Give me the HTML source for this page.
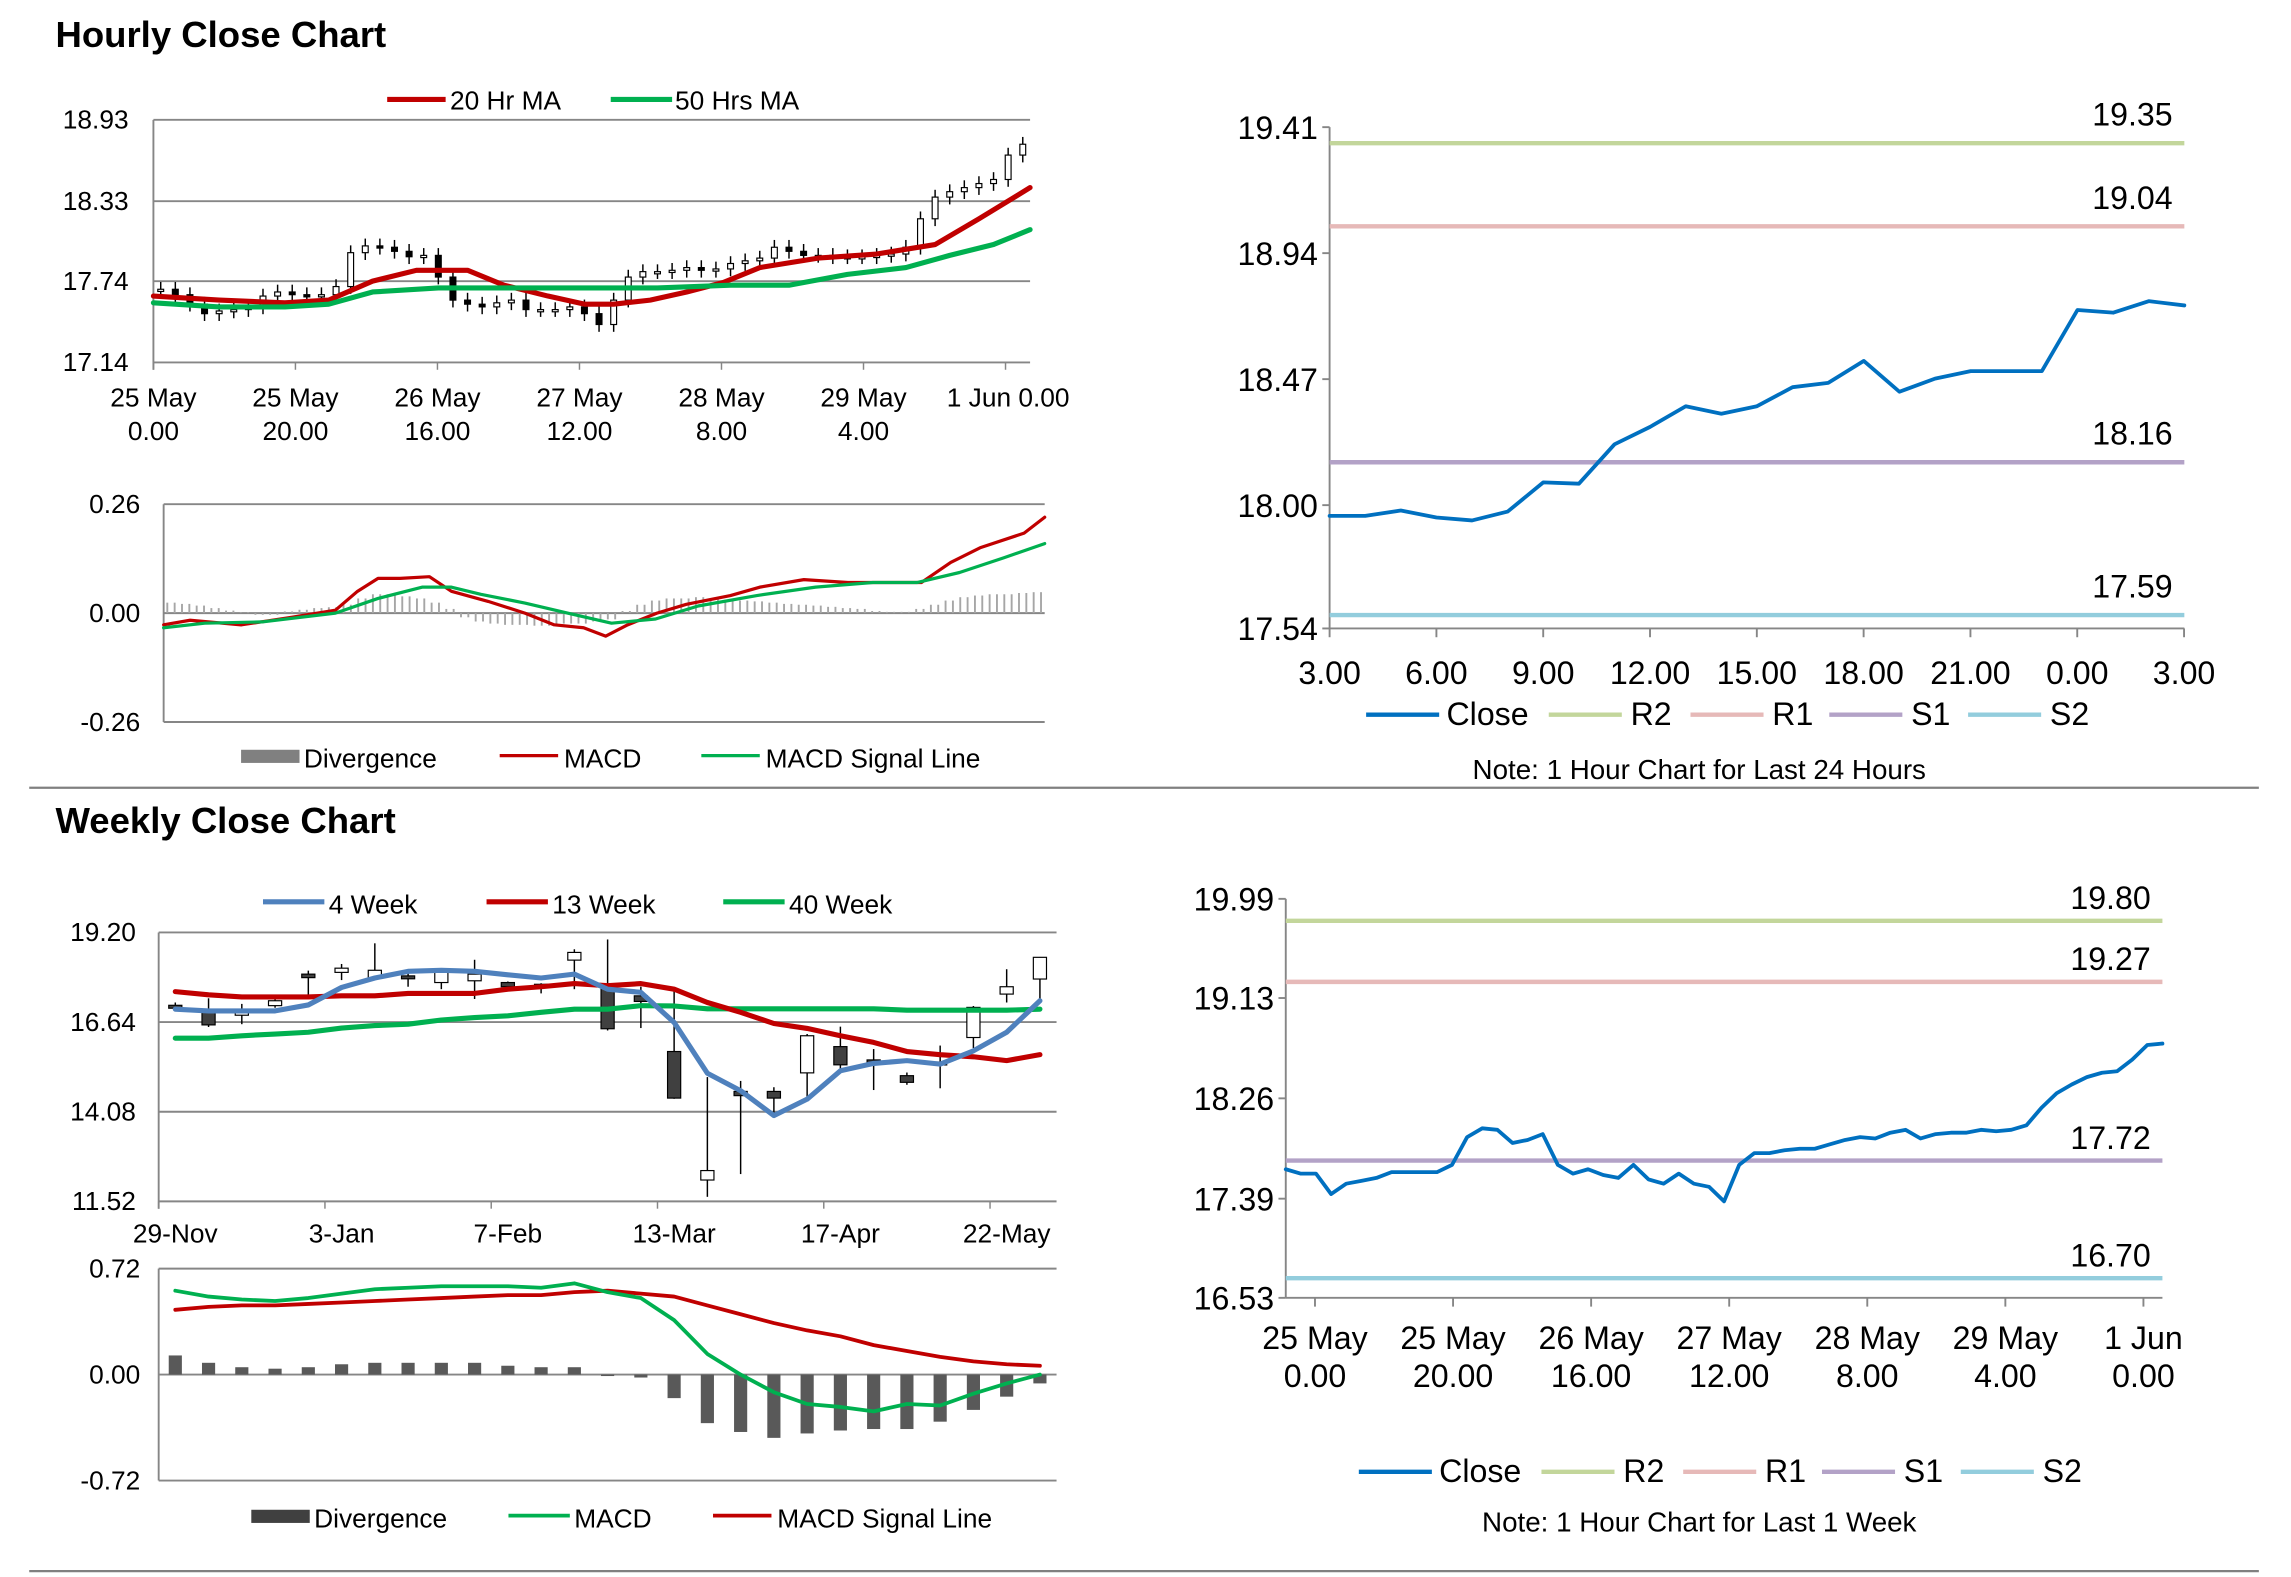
<!DOCTYPE html>
<html><head><meta charset="utf-8"><style>
html,body{margin:0;padding:0;background:#fff;}
svg{display:block;}
text{font-family:"Liberation Sans Narrow","Liberation Sans",sans-serif;fill:#000;}
</style></head>
<body>
<svg id="root" width="2291" height="1577" viewBox="0 0 1568 1079" preserveAspectRatio="none" xmlns="http://www.w3.org/2000/svg"></svg>
<script>
// ---------- DATA ----------
const hrCloses=[17.68,17.64,17.57,17.50,17.52,17.53,17.55,17.63,17.66,17.64,17.63,17.64,17.70,17.95,18.00,17.99,17.96,17.92,17.93,17.77,17.60,17.57,17.55,17.58,17.60,17.53,17.53,17.53,17.55,17.50,17.42,17.60,17.77,17.81,17.81,17.82,17.84,17.82,17.83,17.87,17.89,17.91,17.99,17.96,17.93,17.93,17.92,17.92,17.92,17.93,17.94,17.99,18.20,18.36,18.40,18.43,18.46,18.49,18.67,18.75];
const hrMa20Idx=[0,4.5,9,12,15,18,21.5,24,27,29.5,31.5,34,36.5,39,41.5,45.5,49.5,53.5,56.5,60];
const hrMa20=[17.63,17.60,17.58,17.60,17.74,17.82,17.82,17.71,17.63,17.57,17.57,17.60,17.66,17.73,17.84,17.91,17.94,18.01,18.20,18.43];
const hrMa50Idx=[0,4.5,9,12,15,19.5,24,29.5,34.5,39.5,43.5,47.5,51.5,54.5,57.5,60];
const hrMa50=[17.58,17.55,17.55,17.57,17.66,17.69,17.69,17.69,17.69,17.71,17.71,17.79,17.84,17.93,18.01,18.12];
const hrTicks=[18.93,18.33,17.74,17.14];
const hrXLabels=[["25 May","0.00"],["25 May","20.00"],["26 May","16.00"],["27 May","12.00"],["28 May","8.00"],["29 May","4.00"],["1 Jun 0.00",""]];
const hmDiv=[0.025,0.022,0.018,0.012,0.006,0.002,-0.004,-0.004,0.004,0.008,0.012,0.014,0.02,0.035,0.045,0.045,0.04,0.035,0.025,0.01,-0.01,-0.02,-0.025,-0.028,-0.028,-0.03,-0.03,-0.025,-0.025,-0.02,-0.015,0.005,0.02,0.03,0.035,0.035,0.038,0.035,0.032,0.03,0.028,0.025,0.022,0.02,0.018,0.015,0.012,0.01,0.005,0.003,0.003,0.01,0.02,0.03,0.038,0.042,0.045,0.045,0.048,0.05];
const hmMacdIdx=[0,1.8,5.3,8.7,11.7,13.2,14.6,16.1,18.1,19.6,22.1,24.6,26.6,28.6,30.1,31.6,33.6,35.6,38.6,40.6,43.6,46.6,51.6,53.6,55.6,58.6,60];
const hmMacd=[-0.028,-0.017,-0.028,-0.010,0.007,0.052,0.083,0.083,0.087,0.052,0.028,0,-0.028,-0.035,-0.055,-0.028,0,0.021,0.042,0.062,0.080,0.073,0.073,0.121,0.156,0.191,0.229];
const hmSigIdx=[0,2.8,6.7,11.7,14.6,17.6,19.6,21.6,24.6,27.5,30.5,33.5,36.4,40.4,44.4,48.3,51.3,54.2,57.2,60];
const hmSig=[-0.035,-0.024,-0.021,0,0.035,0.062,0.062,0.045,0.024,0,-0.024,-0.014,0.017,0.042,0.062,0.073,0.073,0.097,0.132,0.166];
const hmTicks=[0.26,0.00,-0.26];
const h24Close=[17.96,17.96,17.98,17.954,17.943,17.976,18.085,18.08,18.227,18.292,18.369,18.341,18.369,18.44,18.456,18.538,18.423,18.472,18.50,18.50,18.50,18.728,18.718,18.761,18.745];
const h24Levels=[19.35,19.04,18.16,17.59];
const h24Ticks=[19.41,18.94,18.47,18.00,17.54];
const h24XLabels=["3.00","6.00","9.00","12.00","15.00","18.00","21.00","0.00","3.00"];
const wkLabels=["29-Nov","3-Jan","7-Feb","13-Mar","17-Apr","22-May"];
const wkOpen=[17.12,16.92,16.90,17.11,18.01,18.06,17.91,17.96,17.77,17.82,17.77,17.72,18.41,17.61,17.39,15.80,12.13,14.66,14.66,15.19,15.94,15.56,15.11,15.50,16.20,17.44,17.87];
const wkClose=[17.08,16.56,16.92,17.25,17.91,18.18,18.12,17.91,18.06,18.01,17.65,17.65,18.63,16.45,17.23,14.47,12.40,14.54,14.47,16.25,15.42,15.46,14.92,15.46,17.06,17.65,18.49];
const wkHigh=[17.20,17.32,17.16,17.30,18.11,18.30,18.89,18.15,18.10,18.42,17.80,17.75,18.72,19.00,17.65,17.61,15.07,14.96,14.78,16.30,16.51,15.87,15.20,15.97,17.10,18.15,18.50];
const wkLow=[16.95,16.50,16.58,17.05,17.39,17.84,17.85,17.65,17.58,17.30,17.60,17.46,17.58,16.40,16.47,14.45,11.65,12.30,14.01,14.49,15.30,14.70,14.85,14.75,15.90,17.20,17.25];
const wk4=[17.01,16.96,16.96,16.96,17.13,17.63,17.90,18.09,18.12,18.09,17.99,17.90,18.01,17.58,17.49,16.63,15.18,14.68,13.97,14.44,15.25,15.46,15.54,15.44,15.82,16.35,17.25];
const wk13=[17.51,17.42,17.36,17.36,17.36,17.39,17.39,17.46,17.46,17.46,17.58,17.65,17.74,17.68,17.74,17.58,17.20,16.92,16.60,16.46,16.25,16.06,15.80,15.71,15.65,15.54,15.71];
const wk40=[16.18,16.18,16.25,16.30,16.35,16.47,16.54,16.58,16.70,16.77,16.82,16.92,17.01,17.01,17.11,17.10,17.02,17.02,17.02,17.02,17.02,17.02,16.98,16.98,16.98,16.98,17.01];
const wkTicks=[19.20,16.64,14.08,11.52];
const wmDiv=[0.13,0.08,0.05,0.04,0.05,0.07,0.08,0.08,0.08,0.08,0.06,0.05,0.05,-0.01,-0.02,-0.16,-0.33,-0.39,-0.43,-0.40,-0.38,-0.37,-0.37,-0.32,-0.24,-0.15,-0.06];
const wmMacd=[0.57,0.53,0.51,0.50,0.52,0.55,0.58,0.59,0.60,0.60,0.60,0.59,0.62,0.56,0.52,0.37,0.14,0,-0.12,-0.20,-0.22,-0.25,-0.20,-0.21,-0.13,-0.06,0];
const wmSig=[0.44,0.46,0.47,0.47,0.48,0.49,0.50,0.51,0.52,0.53,0.54,0.54,0.56,0.57,0.55,0.53,0.47,0.41,0.35,0.30,0.26,0.20,0.16,0.12,0.09,0.07,0.06];
const wmTicks=[0.72,0.00,-0.72];
const wClose=[17.645,17.607,17.607,17.43,17.52,17.544,17.57,17.62,17.62,17.62,17.62,17.683,17.924,18.0,17.987,17.873,17.899,17.95,17.683,17.607,17.645,17.595,17.57,17.683,17.557,17.52,17.607,17.52,17.493,17.367,17.683,17.785,17.785,17.81,17.823,17.823,17.861,17.899,17.924,17.912,17.962,17.987,17.912,17.95,17.962,17.962,17.987,17.975,17.987,18.026,18.178,18.304,18.38,18.444,18.482,18.495,18.596,18.723,18.735];
const wLevels=[19.80,19.27,17.72,16.70];
const wTicks=[19.99,19.13,18.26,17.39,16.53];
const wXLabels=[["25 May","0.00"],["25 May","20.00"],["26 May","16.00"],["27 May","12.00"],["28 May","8.00"],["29 May","4.00"],["1 Jun","0.00"]];
const levelNames=["R2","R1","S1","S2"];

// ---------- HELPERS ----------
const NS="http://www.w3.org/2000/svg";
const root=document.getElementById('root');
function mk(tag,attrs,parent){const e=document.createElementNS(NS,tag);for(const k in attrs)e.setAttribute(k,attrs[k]);(parent||root).appendChild(e);return e;}
function txt(s,x,y,size,anchor,parent,weight){const t=mk('text',{x:x,y:y,'font-size':size,'text-anchor':anchor||'start'},parent);if(weight)t.setAttribute('font-weight',weight);t.textContent=s;return t;}
function lin(d0,d1,r0,r1){return v=>r0+(v-d0)*(r1-r0)/(d1-d0);}
function grp(name){const g=mk('g',{});return g;}
function poly(xs,ys,color,w,parent){return mk('polyline',{points:xs.map((x,i)=>x.toFixed(2)+','+ys[i].toFixed(2)).join(' '),fill:'none',stroke:color,'stroke-width':w,'stroke-linejoin':'round','stroke-linecap':'round'},parent);}
const RED='#c00000',GREEN='#00b050',BLUE='#4f81bd',CBLUE='#0070c0';
const LC=['#c3d69b','#e6b9b8','#b3a2c7','#93cddd'];

let t=txt('Hourly Close Chart',38,32,25,'start',root,'bold');

t.style.fontFamily='"Liberation Sans",sans-serif';
t=txt('Weekly Close Chart',38,570,25,'start',root,'bold');

t.style.fontFamily='"Liberation Sans",sans-serif';
let s=mk('line',{x1:20,y1:539,x2:1546,y2:539,stroke:'#808080','stroke-width':1.5});

s=mk('line',{x1:20,y1:1075,x2:1546,y2:1075,stroke:'#808080','stroke-width':1.5});


(function(){
const g=grp('hourly-candle-chart');
const X0=105,X1=705,Y0=82,Y1=248;
const y=lin(18.93,17.14,Y0,Y1);
const xi=lin(0,60,X0,X1);
hrTicks.forEach(v=>{const l=mk('line',{x1:X0,x2:X1,y1:y(v),y2:y(v),stroke:'#868686','stroke-width':1.3},g);

const tl=txt(v.toFixed(2),88,y(v)+6,18,'end',g);});
const ax=mk('line',{x1:X0,x2:X0,y1:Y0,y2:Y1+5,stroke:'#868686','stroke-width':1.3},g);
hrXLabels.forEach((lb,i)=>{const x=X0+i*97.2;const tk=mk('line',{x1:x,x2:x,y1:Y1,y2:Y1+5,stroke:'#868686'},g);
const a=txt(lb[0],i==6?690:x,278,18,'middle',g);
if(lb[1]){const b=txt(lb[1],x,301,18,'middle',g);}});
hrCloses.forEach((c,i)=>{const o=i?hrCloses[i-1]:c;const x=xi(i+0.5);
const top=y(Math.max(o,c)),bot=y(Math.min(o,c));
const w=mk('line',{x1:x,x2:x,y1:top-5,y2:bot+5,stroke:'#000','stroke-width':1},g);
const r=mk('rect',{x:x-2,y:top,width:4,height:Math.max(1.5,bot-top),fill:c>=o?'#fff':'#000',stroke:'#000','stroke-width':0.8},g);});
const m20=poly(hrMa20Idx.map(xi),hrMa20.map(y),RED,3.5,g);
const m50=poly(hrMa50Idx.map(xi),hrMa50.map(y),GREEN,3.5,g);
const l1=mk('line',{x1:265,x2:305,y1:68,y2:68,stroke:RED,'stroke-width':3.5},g);
const lt1=txt('20 Hr MA',308,75,18,'start',g);
const l2=mk('line',{x1:418,x2:460,y1:68,y2:68,stroke:GREEN,'stroke-width':3.5},g);
const lt2=txt('50 Hrs MA',462,75,18,'start',g);
})();

(function(){
const g=grp('hourly-macd-chart');
const X0=112,X1=715,Y0=345,Y1=494;
const y=lin(0.26,-0.26,Y0,Y1);
const xi=lin(0,60,X0,X1);
[Y0,Y1].forEach(yy=>{const l=mk('line',{x1:X0,x2:X1,y1:yy,y2:yy,stroke:'#868686','stroke-width':1.3},g);});
const zl=mk('line',{x1:X0,x2:X1,y1:y(0),y2:y(0),stroke:'#868686','stroke-width':1.3},g);
const ax=mk('line',{x1:X0,x2:X0,y1:Y0,y2:Y1,stroke:'#868686','stroke-width':1.3},g);
hmTicks.forEach(v=>{const tl=txt(v.toFixed(2),96,y(v)+6,18,'end',g);});
hmDiv.forEach((d,i)=>{for(let k=0;k<2;k++){const x=xi(i+0.25+k*0.5);const b=mk('line',{x1:x,x2:x,y1:y(0),y2:y(d),stroke:'#a6a6a6','stroke-width':1.3},g);
}});
const mr=poly(hmMacdIdx.map(xi),hmMacd.map(y),RED,2.2,g);
const sg=poly(hmSigIdx.map(xi),hmSig.map(y),GREEN,2.2,g);
const r=mk('rect',{x:165,y:513,width:40,height:9,fill:'#808080'},g);
let a=txt('Divergence',208,525,18,'start',g);
const l1=mk('line',{x1:342,x2:382,y1:517,y2:517,stroke:RED,'stroke-width':2.2},g);
a=txt('MACD',386,525,18,'start',g);
const l2=mk('line',{x1:480,x2:520,y1:517,y2:517,stroke:GREEN,'stroke-width':2.2},g);
a=txt('MACD Signal Line',524,525,18,'start',g);
})();

function pivotChart(name,X0,X1,Y0,Y1,dMax,dMin,ticks,closes,levels,xLabelsFn,nX,legendY,note,noteY,labelDY){
const g=grp(name);
const y=lin(dMax,dMin,Y0,Y1);
const xi=lin(0,closes.length-1,X0,X1);
const ax=mk('line',{x1:X0,x2:X0,y1:Y0,y2:Y1,stroke:'#868686','stroke-width':1.3},g);
const bx=mk('line',{x1:X0,x2:X1,y1:Y1,y2:Y1,stroke:'#868686','stroke-width':1.3},g);
ticks.forEach(v=>{const tk=mk('line',{x1:X0-5,x2:X0,y1:y(v),y2:y(v),stroke:'#868686','stroke-width':1.3},g);
const tl=txt(v.toFixed(2),X0-8,y(v)+8,22,'end',g);});
levels.forEach((v,i)=>{const l=mk('line',{x1:X0,x2:X1,y1:y(v),y2:y(v),stroke:LC[i],'stroke-width':3},g);
const lt=txt(v.toFixed(2),X1-8,y(v)-labelDY,22,'end',g);});
xLabelsFn(g,y,Y1);
const cl=poly(closes.map((c,i)=>xi(i)),closes.map(y),CBLUE,2.6,g);
const LX=[935,1060,1157,1252,1347].map(v=>v+ (name==='week-pivot-chart'?-5:0));
const cols=[CBLUE].concat(LC);const nm=['Close'].concat(levelNames);
nm.forEach((n,i)=>{const sw=mk('line',{x1:LX[i],x2:LX[i]+50,y1:legendY-7,y2:legendY-7,stroke:cols[i],'stroke-width':3},g);
const lt=txt(n,LX[i]+(i==0?55:56),legendY,22,'start',g);});
const nt=txt(note,1163,noteY,19,'middle',g);
}
pivotChart('day-pivot-chart',910,1495,87,430,19.41,17.54,h24Ticks,h24Close,h24Levels,function(g,y,Y1){
h24XLabels.forEach((lb,i)=>{const x=910+i*73.1;const tk=mk('line',{x1:x,x2:x,y1:Y1,y2:Y1+6,stroke:'#868686','stroke-width':1.3},g);
const tl=txt(lb,x,468,22,'middle',g);});
},9,496,'Note: 1 Hour Chart for Last 24 Hours',533,12);
pivotChart('week-pivot-chart',880,1480,615,888,19.99,16.53,wTicks,wClose,wLevels,function(g,y,Y1){
wXLabels.forEach((lb,i)=>{const x=900+i*94.5;const tk=mk('line',{x1:x,x2:x,y1:Y1,y2:Y1+6,stroke:'#868686','stroke-width':1.3},g);
const a=txt(lb[0],x,923,22,'middle',g);
const b=txt(lb[1],x,949,22,'middle',g);});
},7,1014,'Note: 1 Hour Chart for Last 1 Week',1048,8);

const WX0=108.6,BW=22.76;
function wx(i){return WX0+BW*(i+0.5);}
(function(){
const g=grp('weekly-candle-chart');
const X1=WX0+27*BW,Y0=638,Y1=822;
const y=lin(19.20,11.52,Y0,Y1);
wkTicks.forEach(v=>{const l=mk('line',{x1:WX0,x2:X1,y1:y(v),y2:y(v),stroke:'#868686','stroke-width':1.3},g);
const tl=txt(v.toFixed(2),93,y(v)+6,18,'end',g);});
const ax=mk('line',{x1:WX0,x2:WX0,y1:Y0,y2:Y1+5,stroke:'#868686','stroke-width':1.3},g);
wkLabels.forEach((lb,k)=>{const i=k*5;const xt=WX0+i*BW;const tk=mk('line',{x1:xt,x2:xt,y1:Y1,y2:Y1+5,stroke:'#868686'},g);
const tl=txt(lb,wx(i),850,18,'middle',g);});
wkOpen.forEach((o,i)=>{const c=wkClose[i];const x=wx(i);
const w=mk('line',{x1:x,x2:x,y1:y(wkHigh[i]),y2:y(wkLow[i]),stroke:'#000','stroke-width':1},g);
const top=y(Math.max(o,c)),bot=y(Math.min(o,c));
const r=mk('rect',{x:x-4.5,y:top,width:9,height:Math.max(2,bot-top),fill:c>=o?'#fff':'#404040',stroke:'#000','stroke-width':0.8},g);});
const xs=wk4.map((v,i)=>wx(i));
const a=poly(xs,wk40.map(y),GREEN,3.5,g);
const b=poly(xs,wk13.map(y),RED,3.5,g);
const c=poly(xs,wk4.map(y),BLUE,3.5,g);
const lg=[[180,BLUE,'4 Week','4-week'],[333,RED,'13 Week','13-week'],[495,GREEN,'40 Week','40-week']];
lg.forEach(L=>{const sw=mk('line',{x1:L[0],x2:L[0]+42,y1:617,y2:617,stroke:L[1],'stroke-width':3.5},g);
const lt=txt(L[2],L[0]+45,625,18,'start',g);});
})();

(function(){
const g=grp('weekly-macd-chart');
const X1=WX0+27*BW,Y0=868,Y1=1013;
const y=lin(0.72,-0.72,Y0,Y1);
[Y0,Y1].forEach(yy=>{const l=mk('line',{x1:WX0,x2:X1,y1:yy,y2:yy,stroke:'#868686','stroke-width':1.3},g);});
const zl=mk('line',{x1:WX0,x2:X1,y1:y(0),y2:y(0),stroke:'#868686','stroke-width':1.3},g);
const ax=mk('line',{x1:WX0,x2:WX0,y1:Y0,y2:Y1,stroke:'#868686','stroke-width':1.3},g);
wmTicks.forEach(v=>{const tl=txt(v.toFixed(2),96,y(v)+6,18,'end',g);});
wmDiv.forEach((d,i)=>{const b=mk('rect',{x:wx(i)-4.5,y:Math.min(y(0),y(d)),width:9,height:Math.abs(y(d)-y(0)),fill:'#595959'},g);});
const xs=wmMacd.map((v,i)=>wx(i));
const r=poly(xs,wmSig.map(y),RED,2.6,g);
const m=poly(xs,wmMacd.map(y),GREEN,2.6,g);
const sw=mk('rect',{x:172,y:1033,width:40,height:9,fill:'#404040'},g);
let a=txt('Divergence',215,1045,18,'start',g);
const l1=mk('line',{x1:348,x2:390,y1:1037,y2:1037,stroke:GREEN,'stroke-width':2.6},g);
a=txt('MACD',393,1045,18,'start',g);
const l2=mk('line',{x1:488,x2:528,y1:1037,y2:1037,stroke:RED,'stroke-width':2.6},g);
a=txt('MACD Signal Line',532,1045,18,'start',g);
})();
</script>
</body></html>
